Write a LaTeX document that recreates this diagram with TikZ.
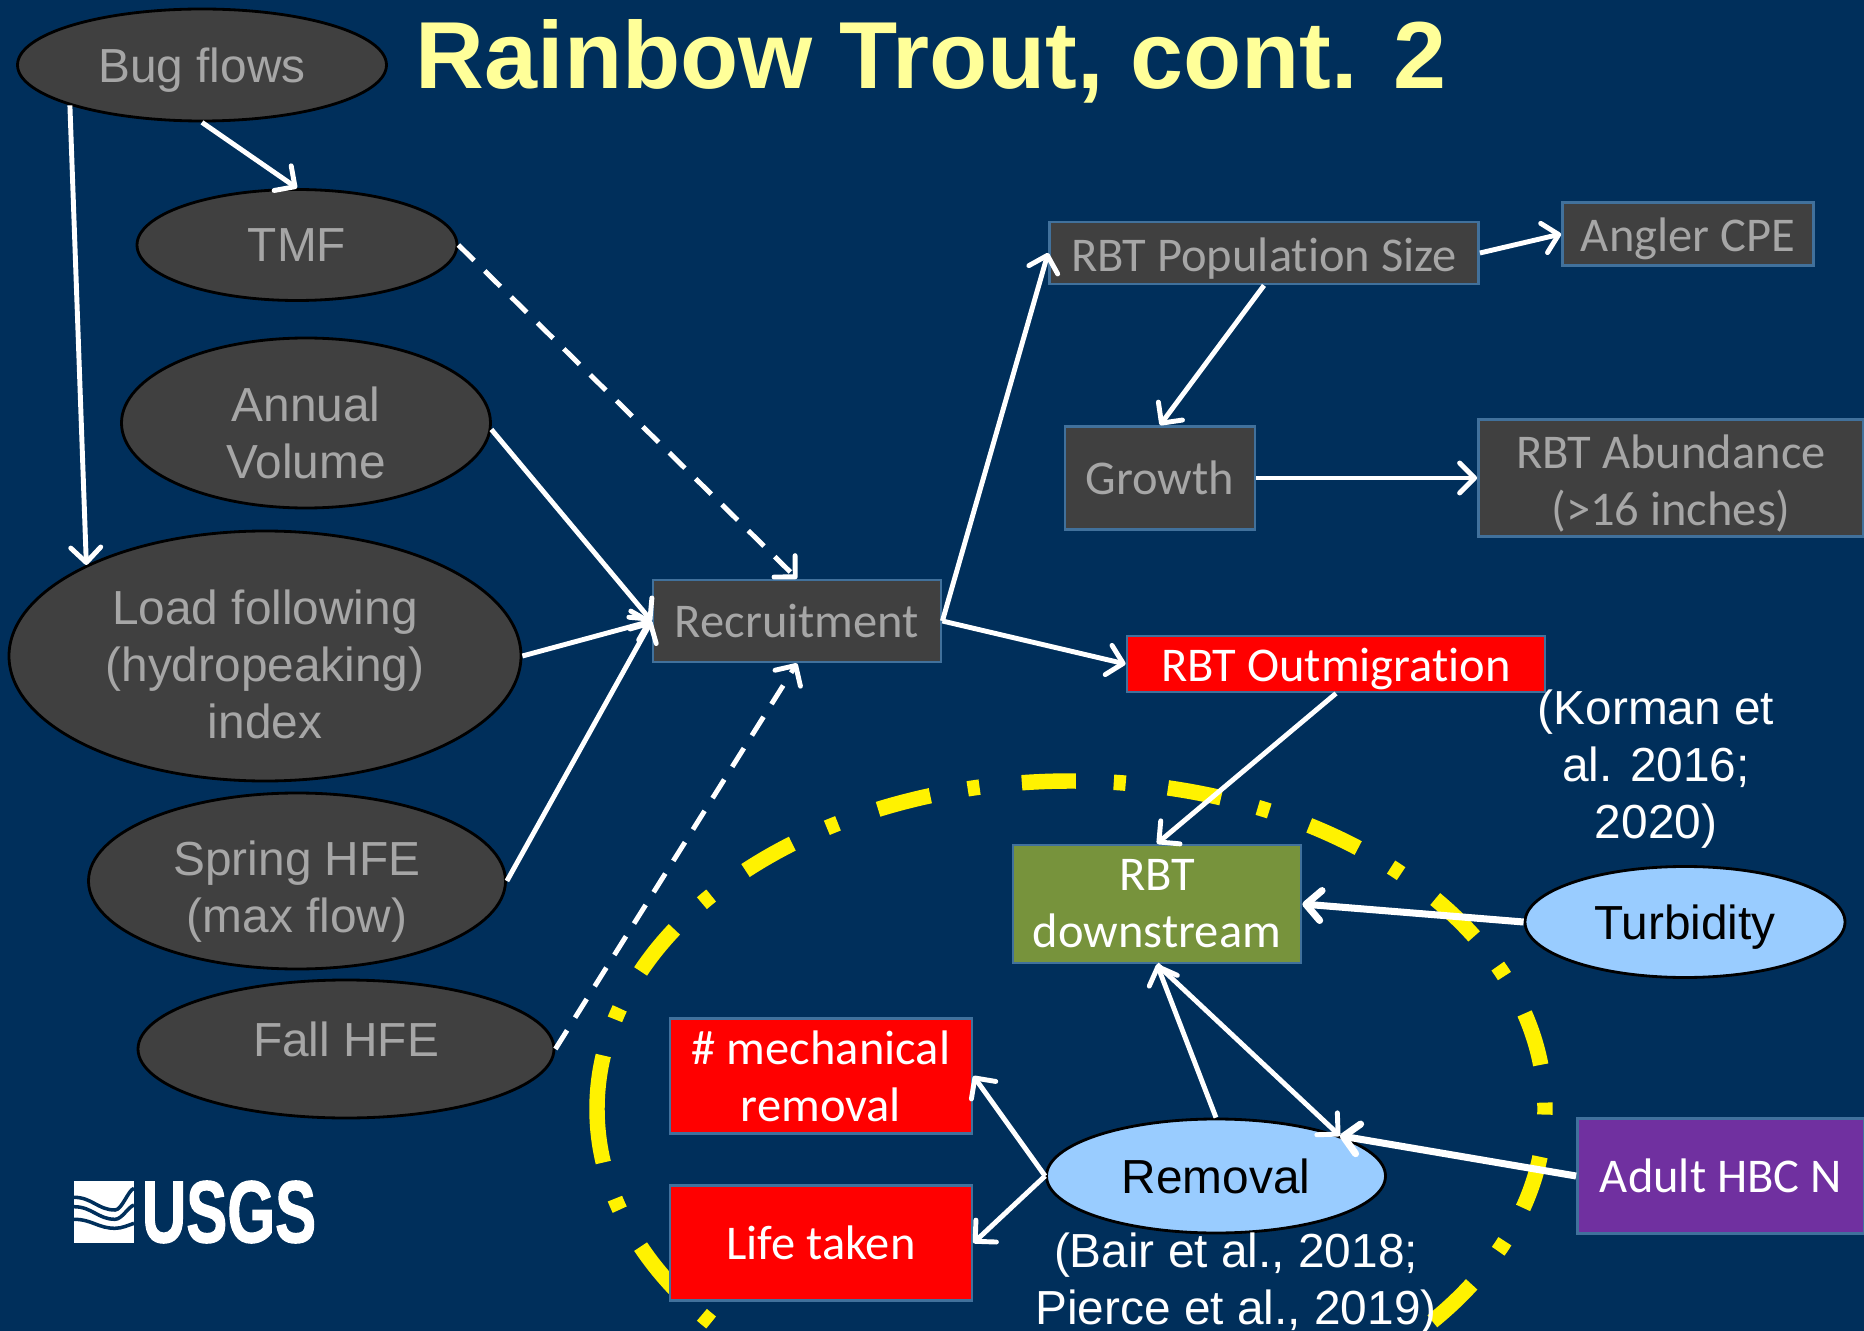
\documentclass[tikz,border=0pt]{standalone}
\usepackage{fontspec}
\usepackage{xcolor}
\usepackage{tikz}
\usetikzlibrary{arrows.meta, shapes.geometric}
\setmainfont{Liberation Sans}
\newfontfamily\boxfont[Ligatures=NoCommon]{Carlito}
\newfontfamily\logofont[FakeBold=1.6]{Liberation Sans Bold}
\definecolor{navy_back}{HTML}{002F5B}
\definecolor{dark_fill}{HTML}{404040}
\definecolor{grey_text}{HTML}{A6A6A6}
\definecolor{box_edge}{HTML}{41719C}
\definecolor{title_yellow}{HTML}{FFFF99}
\definecolor{sky_fill}{HTML}{99CCFF}
\definecolor{olive_fill}{HTML}{77933C}
\definecolor{purple_fill}{HTML}{7030A0}
\newcommand{\topstrut}[1]{\rule{0pt}{#1}}
\newcommand{\lowstrut}[1]{\rule[-#1]{0pt}{#1}}
\begin{document}
\begin{tikzpicture}[
	>={Straight Barb[length=1.5mm, width=3mm, round]},
	basefont/.style = {font=\fontsize{13.6}{16.2}\selectfont, align=center, inner sep=0pt},
	oval/.style 2 args = {basefont, draw=black, ellipse, thick, minimum width=#1cm, minimum height=#2cm},
	greyoval/.style 2 args = {oval={#1}{#2}, fill=dark_fill, text=grey_text},
	skyoval/.style 2 args = {oval={#1}{#2}, fill=sky_fill, text=black},
	plainbox/.style 2 args = {basefont, font=\boxfont\fontsize{13.8}{16.2}\selectfont, draw=box_edge, thick, rectangle, minimum width=#1cm, minimum height=#2cm},
	greybox/.style 2 args = {plainbox={#1}{#2}, fill=dark_fill, text=grey_text},
	colorbox/.style n args = {3}{plainbox={#1}{#2}, fill=#3, text=white},
	citation/.style = {basefont, text=white},
	ring/.style = {yellow, line width=4.4pt, dash pattern=on 5.4mm off 3.8mm on 1.2mm off 4.25mm},
	flow/.style = {white, line width=1.4pt},
	heavyflow/.style = {white, line width=2pt},
	dashflow/.style = {white, line width=1.4pt, dash pattern=on 2.2mm off 1.5mm},
]
\clip (0,0) rectangle (18.64,-13.31);
\fill[navy_back] (0,0) rectangle (18.64,-13.31);

% Dash-dot ring behind the boxes, both halves start at the left
\draw[ring] (5.97,-11.09) arc[start angle=180, end angle=-90, x radius=4.74, y radius=3.28];
\draw[ring] (5.97,-11.09) arc[start angle=180, end angle=270, x radius=4.74, y radius=3.28];

% Define vertices
\node[font=\bfseries\fontsize{27.1}{30}\selectfont, text=title_yellow, inner sep=0pt] (Title) at (9.31,-0.61) {Rainbow Trout, cont. 2};
\node[greyoval={3.69}{1.12}] (BugFlows) at (2.02,-0.65) {\topstrut{12.7pt}Bug flows};
\node[greyoval={3.20}{1.11}, below of=BugFlows, node distance=1.80cm, xshift=0.95cm] (TMF) {TMF};
\node[greyoval={3.69}{1.70}, below of=TMF, node distance=1.78cm, xshift=0.09cm] (AnnualVolume) {\topstrut{15.4pt}Annual\\Volume};
\node[greyoval={5.12}{2.50}, below of=AnnualVolume, node distance=2.33cm, xshift=-0.41cm] (LoadIndex) {\topstrut{14.7pt}Load following\\(hydropeaking)\\index};
\node[greyoval={4.17}{1.76}, below of=LoadIndex, node distance=2.25cm, xshift=0.32cm] (SpringHFE) {\topstrut{16pt}Spring HFE\\(max flow)};
\node[greyoval={4.16}{1.38}, below of=SpringHFE, node distance=1.68cm, xshift=0.49cm] (FallHFE) {\lowstrut{5.4pt}Fall HFE};

\node[greybox={2.88}{0.82}, right of=LoadIndex, node distance=5.32cm, yshift=0.35cm] (Recruitment) {Recruitment};
\node[greybox={4.29}{0.62}] (PopSize) at (12.64,-2.53) {\topstrut{12.8pt}RBT Population Size};
\node[greybox={2.51}{0.63}, right of=PopSize, node distance=4.24cm, yshift=0.19cm] (AnglerCPE) {\topstrut{12.5pt}Angler CPE};
\node[greybox={1.90}{1.03}, below of=PopSize, node distance=2.25cm, xshift=-1.04cm] (Growth) {Growth};
\node[greybox={3.85}{1.17}, right of=Growth, node distance=5.11cm] (Abundance) {\topstrut{12.8pt}RBT Abundance\\(>16 inches)};

\node[colorbox={4.18}{0.56}{red}, right of=Recruitment, node distance=5.39cm, yshift=-0.43cm] (Outmigration) {\topstrut{12.2pt}RBT Outmigration};
\node[colorbox={2.88}{1.18}{olive_fill}, below of=Outmigration, node distance=2.40cm, xshift=-1.79cm] (Downstream) {RBT\\downstream};
\node[skyoval={3.20}{1.11}, right of=Downstream, node distance=5.28cm, yshift=-0.18cm] (Turbidity) {\topstrut{12.7pt}Turbidity};
\node[skyoval={3.39}{1.14}, below of=Downstream, node distance=2.72cm, xshift=0.59cm] (Removal) {Removal};
\node[colorbox={3.02}{1.15}{red}, left of=Removal, node distance=3.95cm, yshift=1.00cm] (Mechanical) {\# mechanical\\removal};
\node[colorbox={3.02}{1.15}{red}, below of=Mechanical, node distance=1.67cm] (LifeTaken) {Life taken};
\node[colorbox={2.87}{1.15}{purple_fill}, right of=Removal, node distance=5.05cm] (AdultHBC) {Adult HBC N};

\node[citation] (Korman) at (16.56,-7.69) {(Korman et\\al. 2016;\\2020)};
\node[citation, below of=Removal, node distance=1.08cm, xshift=0.20cm] (Bair) {(Bair et al., 2018;\\Pierce et al., 2019)};

% USGS mark
\fill[white] (0.74,-11.81) rectangle (1.34,-12.43);
\foreach \leftY/\lowY/\rightY in {-11.973/-12.10/-11.883, -12.067/-12.193/-12.05, -12.193/-12.283/-12.233}
	\draw[navy_back, line width=1pt] (0.74,\leftY) .. controls (0.92,\leftY) and (0.98,\lowY) .. (1.15,\lowY) .. controls (1.22,\lowY) and (1.28,\rightY-0.02) .. (1.34,\rightY);
\node[font=\logofont\fontsize{25}{25}\selectfont, text=white, inner sep=0pt, xscale=0.7] (USGS) at (2.29,-12.12) {USGS};

% Draw edges
\path[->, flow] (BugFlows.197) edge (LoadIndex.153);
\path[->, flow] (BugFlows.south) edge (TMF.north);
\path[->, dashflow] (TMF.east) edge (Recruitment.north);
\path[->, flow] (AnnualVolume.-2) edge (Recruitment.west);
\path[->, flow] (LoadIndex.east) edge (Recruitment.west);
\path[->, flow] (SpringHFE.east) edge (Recruitment.west);
\path[->, dashflow] (FallHFE.east) edge (Recruitment.south);
\path[->, flow] (Recruitment.east) edge (PopSize.west);
\path[->, flow] (Recruitment.east) edge (Outmigration.west);
\path[->, flow] (PopSize.east) edge (AnglerCPE.west);
\path[->, flow] (PopSize.south) edge (Growth.north);
\path[->, flow] (Growth.east) edge (Abundance.west);
\path[->, flow] (Outmigration.south) edge (Downstream.north);
\path[->, heavyflow] (Turbidity.west) edge (Downstream.east);
\path[->, flow] (Removal.north) edge (Downstream.south);
\path[->, flow] (Downstream.south) edge (Removal.18);
\path[->, heavyflow] (AdultHBC.west) edge (Removal.18);
\path[->, flow] (Removal.west) edge (Mechanical.east);
\path[->, flow] (Removal.west) edge (LifeTaken.east);
\end{tikzpicture}
\end{document}
